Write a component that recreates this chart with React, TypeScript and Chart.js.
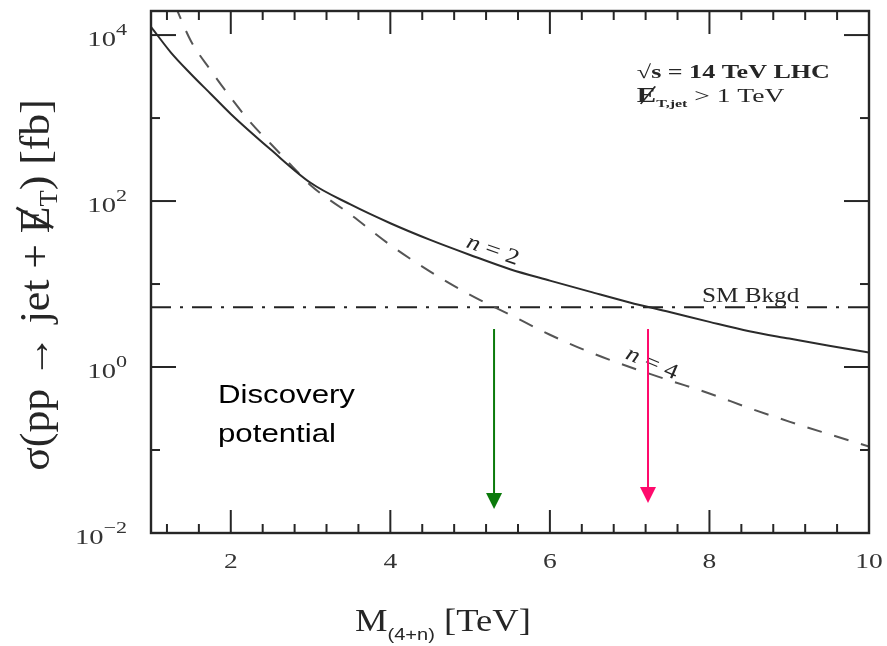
import { useEffect, useRef } from 'react';
import { Chart, registerables } from 'chart.js';

Chart.register(...registerables);

// ---- data ----
const massN2 = [1.0, 1.25, 1.5, 1.75, 2.0, 2.5, 3.0, 3.5, 4.0, 4.5, 5.0, 5.5, 6.0, 6.5, 7.0, 7.5, 8.0, 8.5, 9.0, 9.5, 10.0];
const sigmaN2 = [12600, 6150, 3400, 1950, 1120, 417, 166, 91, 54, 34, 22.4, 15.1, 11.0, 8.1, 6.0, 4.6, 3.5, 2.7, 2.2, 1.8, 1.5];

const massN4 = [1.3, 1.5, 1.75, 2.0, 2.25, 2.5, 2.75, 3.0, 3.5, 4.0, 4.5, 5.0, 5.5, 6.0, 6.5, 7.0, 7.5, 8.0, 8.5, 9.0, 9.5, 10.0];
const sigmaN4 = [22900, 8500, 3750, 1760, 880, 490, 275, 155, 69, 29.5, 14.1, 7.4, 4.27, 2.45, 1.51, 1.0, 0.69, 0.48, 0.32, 0.22, 0.155, 0.11];

const smMass = [1, 10];
const smSigma = [5.25, 5.25];

const xMin = 1;
const xMax = 10;
const yMin = 0.01;
const yMax = 19500;

const xMajorTicks = [2, 4, 6, 8, 10];
const xMinorTicks = [1.2, 1.6, 2.4, 2.8, 3.2, 3.6, 4.4, 4.8, 5.2, 5.6, 6.4, 6.8, 7.2, 7.6, 8.4, 8.8, 9.2, 9.6];
const yMajorTicks = [0.01, 1, 100, 10000];
const yTickExponents = ['\u22122', '0', '2', '4'];
const yMinorTicks = [0.1, 10, 1000];

// discovery-reach arrows: mass, top, tip
const arrowMass = [5.3, 7.23];
const arrowTop = [2.87, 2.87];
const arrowTip = [0.0195, 0.023];
const arrowColors = ['#0b7a0b', '#ff0a6c'];

type Seg = { t: string; f: string; dy?: number; slash?: boolean };

function drawRich(
  ctx: CanvasRenderingContext2D,
  segs: Seg[],
  x: number,
  y: number,
  align: 'left' | 'center' | 'right',
  rot = 0,
  sx = 1,
  sy = 1
) {
  ctx.save();
  ctx.translate(x, y);
  if (rot) ctx.rotate(rot);
  ctx.scale(sx, sy);
  ctx.textBaseline = 'alphabetic';
  ctx.textAlign = 'left';
  let total = 0;
  const widths = segs.map((s) => {
    ctx.font = s.f;
    const w = ctx.measureText(s.t).width;
    total += w;
    return w;
  });
  let cx = align === 'left' ? 0 : align === 'center' ? -total / 2 : -total;
  segs.forEach((s, i) => {
    ctx.font = s.f;
    const dy = s.dy || 0;
    ctx.fillText(s.t, cx, dy);
    if (s.slash) {
      const m = s.f.match(/(\d+(?:\.\d+)?)px/);
      const fs = m ? parseFloat(m[1]) : 16;
      ctx.beginPath();
      ctx.moveTo(cx + widths[i] * 0.2, dy + fs * 0.1);
      ctx.lineTo(cx + widths[i] * 0.95, dy - fs * 0.78);
      ctx.lineWidth = Math.max(1, fs / 16);
      ctx.stroke();
    }
    cx += widths[i];
  });
  ctx.restore();
}

const SERIF = '"Liberation Serif", "DejaVu Serif", serif';
const SANS = '"Liberation Sans", Arial, sans-serif';
const INK = '#262626';

const framePlugin = {
  id: 'frame',
  beforeDraw(chart: any) {
    const { ctx, width, height } = chart;
    ctx.save();
    ctx.fillStyle = '#ffffff';
    ctx.fillRect(0, 0, width, height);
    ctx.restore();
  },
  afterDatasetsDraw(chart: any) {
    const { ctx, chartArea: a } = chart;
    const xs = chart.scales.x;
    const ys = chart.scales.y;
    const X = (v: number) => xs.getPixelForValue(v);
    const Y = (v: number) => ys.getPixelForValue(v);
    ctx.save();
    ctx.strokeStyle = INK;
    ctx.fillStyle = INK;
    ctx.lineWidth = 2;
    ctx.lineCap = 'butt';

    const tick = (x1: number, y1: number, x2: number, y2: number) => {
      ctx.beginPath();
      ctx.moveTo(x1, y1);
      ctx.lineTo(x2, y2);
      ctx.stroke();
    };
    xMinorTicks.forEach((v) => {
      const p = X(v);
      tick(p, a.bottom, p, a.bottom - 9);
      tick(p, a.top, p, a.top + 9);
    });
    xMajorTicks.forEach((v) => {
      if (v >= xMax) return;
      const p = X(v);
      tick(p, a.bottom, p, a.bottom - 23);
      tick(p, a.top, p, a.top + 23);
    });
    yMinorTicks.forEach((v) => {
      const p = Y(v);
      tick(a.left, p, a.left + 9, p);
      tick(a.right, p, a.right - 9, p);
    });
    yMajorTicks.forEach((v) => {
      if (v <= yMin) return;
      const p = Y(v);
      tick(a.left, p, a.left + 25, p);
      tick(a.right, p, a.right - 25, p);
    });
    ctx.lineWidth = 2.4;
    ctx.strokeRect(a.left, a.top, a.right - a.left, a.bottom - a.top);

    // x tick labels
    ctx.fillStyle = '#333';
    xMajorTicks.forEach((v) => {
      drawRich(ctx, [{ t: String(v), f: `22px ${SERIF}` }], X(v), a.bottom + 35, 'center', 0, 1.25, 1);
    });
    // y tick labels 10^n
    yMajorTicks.forEach((v, i) => {
      const p = Y(v);
      drawRich(
        ctx,
        [
          { t: '10', f: `22px ${SERIF}` },
          { t: yTickExponents[i], f: `17px ${SERIF}`, dy: -11 },
        ],
        a.left - 24,
        p + 11,
        'right',
        0,
        1.3,
        1
      );
    });

    // axis titles
    ctx.fillStyle = INK;
    drawRich(
      ctx,
      [
        { t: 'M', f: `31px ${SERIF}` },
        { t: '(4+n)', f: `17px ${SANS}`, dy: 9 },
        { t: ' [TeV]', f: `31px ${SERIF}` },
      ],
      355,
      631,
      'left',
      0,
      1.18,
      1
    );
    ctx.strokeStyle = INK;
    drawRich(
      ctx,
      [
        { t: '\u03c3(pp \u2192 jet + ', f: `38px ${SERIF}` },
        { t: 'E', f: `38px ${SERIF}`, slash: true },
        { t: 'T', f: `23px ${SERIF}`, dy: 7 },
        { t: ') [fb]', f: `38px ${SERIF}` },
      ],
      49,
      285,
      'center',
      -Math.PI / 2,
      1.15,
      1.1
    );

    // annotations
    drawRich(ctx, [{ t: '\u221As = 14 TeV LHC', f: `bold 19px ${SERIF}` }], X(7.09), Y(3030), 'left', 0, 1.37, 1);
    drawRich(
      ctx,
      [
        { t: 'E', f: `bold 20px ${SERIF}`, slash: true },
        { t: 'T,jet', f: `bold 11px ${SERIF}`, dy: 5 },
        { t: ' > 1 TeV', f: `19px ${SERIF}` },
      ],
      X(7.09),
      Y(1560),
      'left',
      0,
      1.45,
      1
    );
    drawRich(ctx, [{ t: 'SM Bkgd', f: `21px ${SERIF}` }], X(7.906), Y(6.07), 'left', 0, 1.2, 1);
    drawRich(
      ctx,
      [
        { t: 'n', f: `italic 22px ${SERIF}` },
        { t: ' = 2', f: `22px ${SERIF}` },
      ],
      X(5.26),
      Y(26.4) + 7,
      'center',
      (19.5 * Math.PI) / 180,
      1.2,
      1
    );
    drawRich(
      ctx,
      [
        { t: 'n', f: `italic 22px ${SERIF}` },
        { t: ' = 4', f: `22px ${SERIF}` },
      ],
      X(7.25),
      Y(1.15) + 7,
      'center',
      (23 * Math.PI) / 180,
      1.2,
      1
    );

    ctx.fillStyle = '#000';
    drawRich(ctx, [{ t: 'Discovery', f: `26px ${SANS}` }], X(1.84), Y(0.368), 'left', 0, 1.2, 1);
    drawRich(ctx, [{ t: 'potential', f: `26px ${SANS}` }], X(1.84), Y(0.125), 'left', 0, 1.2, 1);

    // arrows
    arrowMass.forEach((m, i) => {
      const px = X(m);
      const top = Y(arrowTop[i]);
      const tip = Y(arrowTip[i]);
      ctx.strokeStyle = arrowColors[i];
      ctx.fillStyle = arrowColors[i];
      ctx.lineWidth = 2;
      ctx.beginPath();
      ctx.moveTo(px, top);
      ctx.lineTo(px, tip - 12);
      ctx.stroke();
      ctx.beginPath();
      ctx.moveTo(px - 8, tip - 16);
      ctx.lineTo(px + 8, tip - 16);
      ctx.lineTo(px, tip);
      ctx.closePath();
      ctx.fill();
    });

    ctx.restore();
  },
};

export default function App() {
  const ref = useRef<HTMLCanvasElement>(null);
  useEffect(() => {
    if (!ref.current) return;
    const toPts = (xs: number[], ys: number[]) => xs.map((x, i) => ({ x, y: ys[i] }));
    const chart = new Chart(ref.current, {
      type: 'scatter',
      data: {
        datasets: [
          {
            label: 'n = 2',
            data: toPts(massN2, sigmaN2),
            showLine: true,
            borderColor: '#2b2b2b',
            borderWidth: 2,
            pointRadius: 0,
            cubicInterpolationMode: 'monotone',
          },
          {
            label: 'n = 4',
            data: toPts(massN4, sigmaN4),
            showLine: true,
            borderColor: '#555555',
            borderWidth: 2,
            borderDash: [15, 13],
            pointRadius: 0,
            cubicInterpolationMode: 'monotone',
          },
          {
            label: 'SM Bkgd',
            data: toPts(smMass, smSigma),
            showLine: true,
            borderColor: '#222222',
            borderWidth: 2,
            borderDash: [20, 9, 3, 9],
            pointRadius: 0,
          },
        ],
      } as any,
      options: {
        animation: false,
        responsive: false,
        maintainAspectRatio: false,
        devicePixelRatio: 1,
        layout: { padding: { top: 11, right: 18, left: 0, bottom: 0 } },
        plugins: { legend: { display: false }, tooltip: { enabled: false } },
        scales: {
          x: {
            type: 'linear',
            min: xMin,
            max: xMax,
            grid: { display: false },
            border: { display: false },
            ticks: { display: false },
            afterFit: (s: any) => {
              s.height = 113;
            },
          },
          y: {
            type: 'logarithmic',
            min: yMin,
            max: yMax,
            grid: { display: false },
            border: { display: false },
            ticks: { display: false },
            afterFit: (s: any) => {
              s.width = 151;
            },
          },
        },
      } as any,
      plugins: [framePlugin],
    });
    return () => chart.destroy();
  }, []);
  return (
    <div style={{ position: 'absolute', left: 0, top: 0, width: 887, height: 646, background: '#fff' }}>
      <canvas ref={ref} width={887} height={646} style={{ display: 'block', width: 887, height: 646 }} />
    </div>
  );
}
